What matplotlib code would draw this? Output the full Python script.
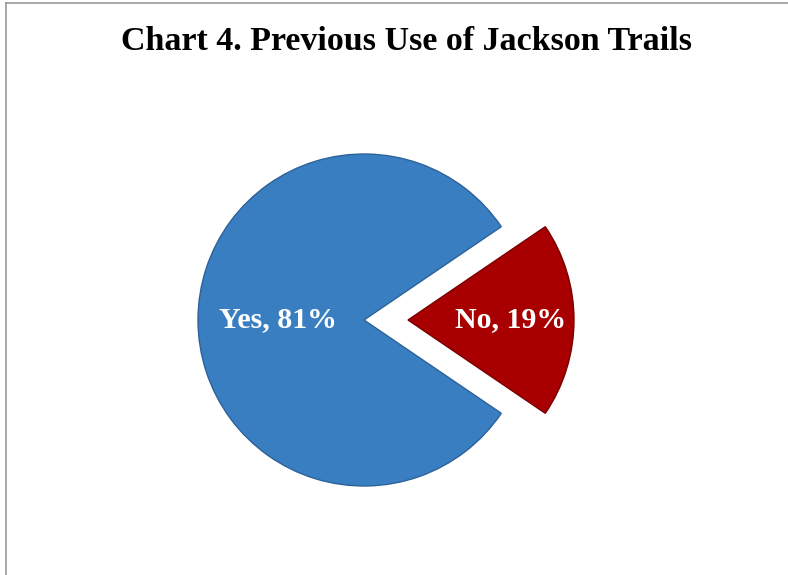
import numpy as np
import matplotlib
matplotlib.use("Agg")
import matplotlib.pyplot as plt
from matplotlib.lines import Line2D

TITULO = "Chart 4. Previous Use of Jackson Trails"
CATEGORIAS = ["Yes", "No"]
PERCENTUAIS = [81, 19]
CORES = ["#3A7EC2", "#A80000"]
BORDAS = ["#2D6299", "#7A0000"]

fig = plt.figure(figsize=(7.88, 5.75), dpi=100)
fig.patch.set_facecolor("white")

# moldura (so topo e lado esquerdo aparecem na referencia)
fig.add_artist(Line2D([6 / 788, 1], [1 - 3 / 575, 1 - 3 / 575], color="#9a9a9a", lw=1.2))
fig.add_artist(Line2D([6 / 788, 6 / 788], [0, 1 - 3 / 575], color="#9a9a9a", lw=1.2))

fig.text(406 / 788, 1 - 41 / 575, TITULO, ha="center", va="center",
         fontsize=24.5, fontweight="bold", family="Liberation Serif")

ax = fig.add_axes([(364 - 249) / 788, (575 - 320 - 249) / 575, 498 / 788, 498 / 575])
wedges, _ = ax.pie(PERCENTUAIS, colors=CORES, startangle=34.2, explode=[0, 0.265],
                   wedgeprops=dict(linewidth=1.0))
for w, b in zip(wedges, BORDAS):
    w.set_edgecolor(b)
ax.set_xlim(-1.5, 1.5)
ax.set_ylim(-1.5, 1.5)
ax.axis("off")

dists = [0.52, 0.62]
for w, cat, p, d in zip(wedges, CATEGORIAS, PERCENTUAIS, dists):
    ang = np.deg2rad((w.theta1 + w.theta2) / 2)
    cx, cy = w.center
    ax.text(cx + d * np.cos(ang), cy + d * np.sin(ang), f"{cat}, {p}%",
            ha="center", va="center", color="white", fontsize=21.5,
            fontweight="bold", family="Liberation Serif")

plt.savefig("out.png", dpi=100)
plt.close()
